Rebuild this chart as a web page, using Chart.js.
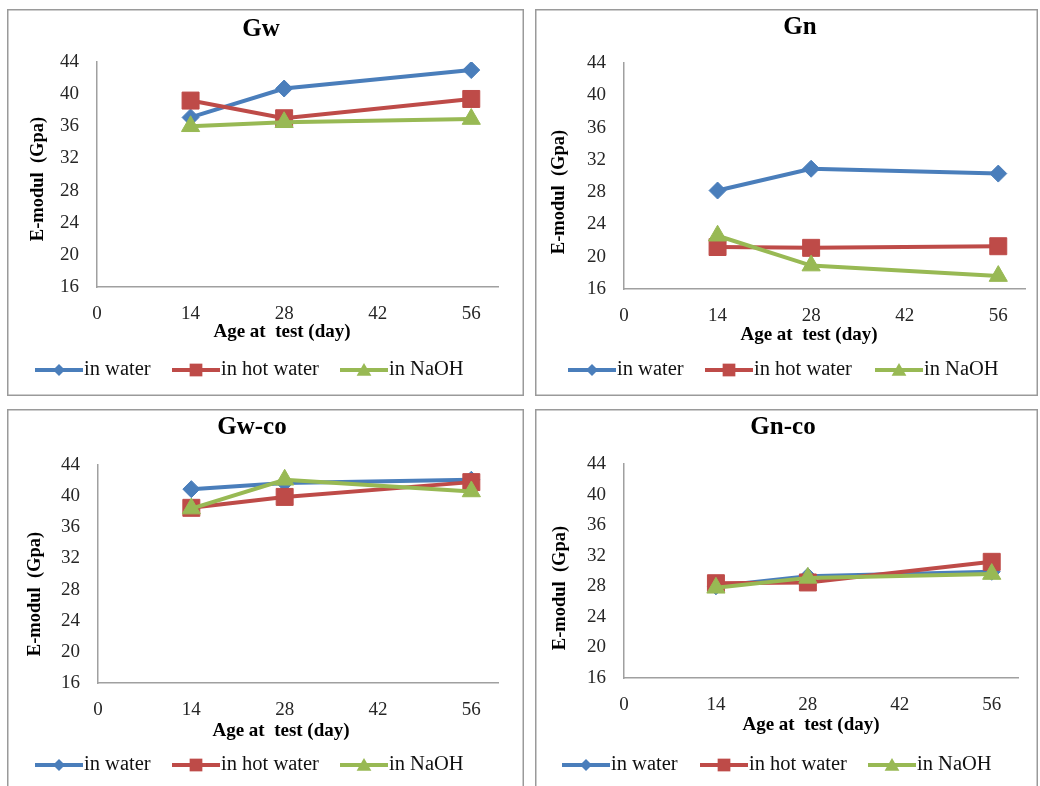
<!DOCTYPE html>
<html>
<head>
<meta charset="utf-8">
<script src="https://cdn.jsdelivr.net/npm/chart.js@4.4.1/dist/chart.umd.min.js"></script>
<style>
  html, body { margin: 0; padding: 0; background: #fff; width: 1040px; height: 786px; overflow: hidden; }
  canvas { position: absolute; }
</style>
</head>
<body>
<canvas id="gw"></canvas>
<canvas id="gn"></canvas>
<canvas id="gwco"></canvas>
<canvas id="gnco"></canvas>
<script>
// Test ages (days) and axis ticks
const days = [14, 28, 56];
const xTicks = [0, 14, 28, 42, 56];
const yTicks = [16, 20, 24, 28, 32, 36, 40, 44];
const seriesNames = ['in water', 'in hot water', 'in NaOH'];
const xTitle = 'Age at  test (day)';
const yTitle = 'E-modul  (Gpa)';

// E-modulus (GPa) per curing condition
const gwWater = [37.1, 40.7, 43.0];
const gwHot   = [39.2, 37.0, 39.4];
const gwNaOH  = [36.0, 36.5, 36.9];

const gnWater = [28.2, 30.9, 30.3];
const gnHot   = [21.2, 21.1, 21.3];
const gnNaOH  = [22.6, 18.9, 17.6];

const gwcoWater = [40.9, 41.7, 42.1];
const gwcoHot   = [38.5, 39.9, 41.8];
const gwcoNaOH  = [38.4, 42.1, 40.6];

const gncoWater = [28.0, 29.3, 29.9];
const gncoHot   = [28.4, 28.5, 31.2];
const gncoNaOH  = [27.8, 29.1, 29.6];

const colors = ['#4A7EBB', '#BE4B48', '#98B954'];
const styles = ['rectRot', 'rect', 'triangle'];
const radii = [8.5, 12, 10.5];
const FONT = '"Liberation Serif", "Times New Roman", serif';

// Panel layout on the page
const panels = [
  { id: 'gw', title: 'Gw', series: [gwWater, gwHot, gwNaOH],
    box: { x: 7, y: 9, w: 517, h: 387 }, area: { l: 97, r: 498, t: 62, b: 287 },
    titleAt: [261, 30], xTitleAt: [282, 332], yTitleAt: [38, 179], legendY: 370, legendX: [35, 172, 340] },
  { id: 'gn', title: 'Gn', series: [gnWater, gnHot, gnNaOH],
    box: { x: 535, y: 9, w: 503, h: 387 }, area: { l: 624, r: 1025, t: 63, b: 289 },
    titleAt: [800, 28], xTitleAt: [809, 335], yTitleAt: [559, 192], legendY: 370, legendX: [568, 705, 875] },
  { id: 'gwco', title: 'Gw-co', series: [gwcoWater, gwcoHot, gwcoNaOH],
    box: { x: 7, y: 409, w: 517, h: 390 }, area: { l: 98, r: 498, t: 465, b: 683 },
    titleAt: [252, 428], xTitleAt: [281, 731], yTitleAt: [35, 594], legendY: 765, legendX: [35, 172, 340] },
  { id: 'gnco', title: 'Gn-co', series: [gncoWater, gncoHot, gncoNaOH],
    box: { x: 535, y: 409, w: 503, h: 390 }, area: { l: 624, r: 1018, t: 464, b: 678 },
    titleAt: [783, 428], xTitleAt: [811, 725], yTitleAt: [560, 588], legendY: 765, legendX: [562, 700, 868] }
];

function markerPath(ctx, style, r, x, y) {
  ctx.beginPath();
  if (style === 'rectRot') {
    ctx.moveTo(x - r, y); ctx.lineTo(x, y - r); ctx.lineTo(x + r, y); ctx.lineTo(x, y + r);
  } else if (style === 'rect') {
    const s = r * Math.SQRT1_2;
    ctx.rect(x - s, y - s, 2 * s, 2 * s);
  } else {
    const a = 2 * Math.PI / 3;
    for (let k = 0; k < 3; k++) {
      const px = x + Math.sin(k * a) * r, py = y - Math.cos(k * a) * r;
      k ? ctx.lineTo(px, py) : ctx.moveTo(px, py);
    }
  }
  ctx.closePath();
}

// Frame, titles and legend drawn onto each panel
const panelDecor = {
  id: 'panelDecor',
  afterDraw(chart, args, opts) {
    const p = opts.panel;
    const ctx = chart.ctx;
    const ox = p.box.x, oy = p.box.y;
    ctx.save();
    ctx.strokeStyle = '#9a9a9a';
    ctx.lineWidth = 1.5;
    ctx.strokeRect(0.75, 0.75, p.box.w - 1.5, p.box.h - 1.5);

    ctx.fillStyle = '#000';
    ctx.textAlign = 'center';
    ctx.textBaseline = 'middle';
    ctx.font = 'bold 25px ' + FONT;
    ctx.fillText(p.title, p.titleAt[0] - ox, p.titleAt[1] - oy);

    ctx.font = 'bold 19px ' + FONT;
    ctx.fillText(xTitle, p.xTitleAt[0] - ox, p.xTitleAt[1] - oy);

    ctx.save();
    ctx.translate(p.yTitleAt[0] - ox, p.yTitleAt[1] - oy);
    ctx.rotate(-Math.PI / 2);
    ctx.font = 'bold 18.5px ' + FONT;
    ctx.fillText(yTitle, 0, 0);
    ctx.restore();

    // legend
    const ly = p.legendY - oy;
    chart.data.datasets.forEach((ds, i) => {
      const lx = p.legendX[i] - ox;
      ctx.strokeStyle = ds.borderColor;
      ctx.lineWidth = 4;
      ctx.beginPath();
      ctx.moveTo(lx, ly); ctx.lineTo(lx + 48, ly);
      ctx.stroke();
      ctx.fillStyle = ds.borderColor;
      const lr = [6, 9, 8.5][i];
      markerPath(ctx, ds.pointStyle, lr, lx + 24, ly + (i === 2 ? 1.5 : 0));
      ctx.fill();
      ctx.fillStyle = '#111';
      ctx.textAlign = 'left';
      ctx.font = '20.5px ' + FONT;
      ctx.fillText(ds.label, lx + 49, ly);
    });
    ctx.restore();
  }
};

panels.forEach(p => {
  const cv = document.getElementById(p.id);
  cv.width = p.box.w; cv.height = p.box.h;
  cv.style.left = p.box.x + 'px'; cv.style.top = p.box.y + 'px';
  cv.style.width = p.box.w + 'px'; cv.style.height = p.box.h + 'px';

  const datasets = p.series.map((vals, i) => ({
    label: seriesNames[i],
    data: days.map((d, k) => ({ x: d, y: vals[k] })),
    borderColor: colors[i],
    backgroundColor: colors[i],
    borderWidth: 4,
    pointStyle: styles[i],
    pointRadius: radii[i],
    pointBorderWidth: 1,
    pointBackgroundColor: colors[i],
    pointBorderColor: colors[i],
    tension: 0,
    order: 3 - i
  }));

  // the axis boxes take all the space left of / below the plot area
  const yAxisWidth = p.area.l - p.box.x;
  const xAxisHeight = p.box.y + p.box.h - p.area.b;
  const tickFont = { family: FONT, size: 19 };
  new Chart(cv, {
    type: 'line',
    data: { datasets },
    options: {
      responsive: false,
      animation: false,
      events: [],
      layout: {
        padding: {
          left: 0,
          top: p.area.t - p.box.y,
          right: p.box.x + p.box.w - p.area.r,
          bottom: 0
        }
      },
      plugins: {
        legend: { display: false },
        tooltip: { enabled: false },
        title: { display: false },
        panelDecor: { panel: p }
      },
      scales: {
        x: {
          type: 'linear', min: 0, max: 60,
          afterBuildTicks: s => { s.ticks = xTicks.map(v => ({ value: v })); },
          afterFit: s => { s.height = xAxisHeight; },
          grid: { display: false, drawTicks: false },
          border: { display: true, color: '#a0a0a0', width: 1.5 },
          ticks: { padding: 16, color: '#262626', font: tickFont, autoSkip: false, maxRotation: 0 }
        },
        y: {
          type: 'linear', min: 16, max: 44,
          afterBuildTicks: s => { s.ticks = yTicks.map(v => ({ value: v })); },
          afterFit: s => { s.width = yAxisWidth; },
          grid: { display: false, drawTicks: false },
          border: { display: true, color: '#a0a0a0', width: 1.5 },
          ticks: { padding: 18, color: '#262626', font: tickFont, autoSkip: false }
        }
      }
    },
    plugins: [panelDecor]
  });
});
</script>
</body>
</html>
